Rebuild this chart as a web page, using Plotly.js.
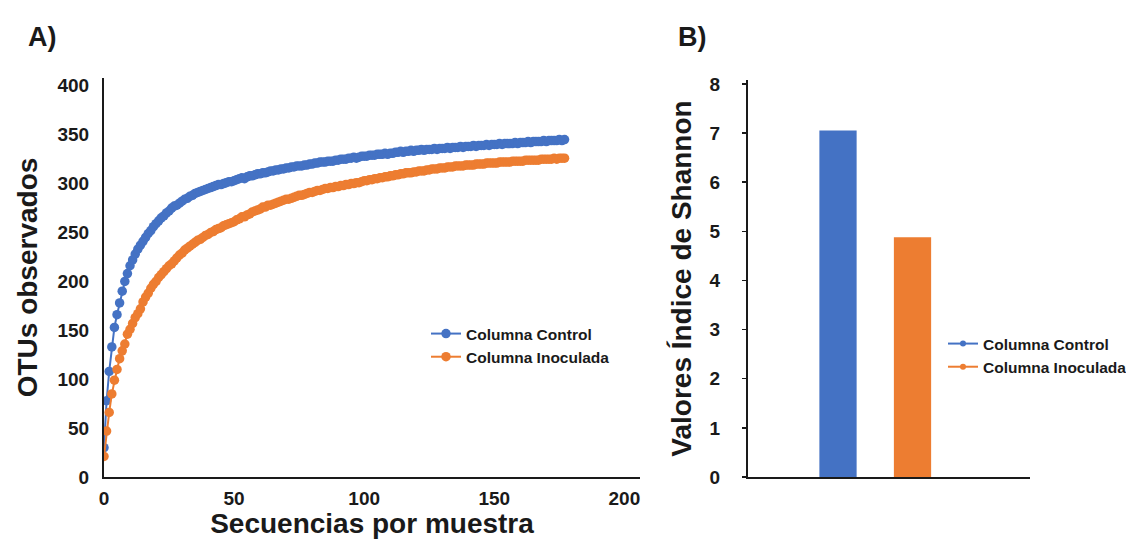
<!DOCTYPE html>
<html>
<head>
<meta charset="utf-8">
<script src="https://cdn.plot.ly/plotly-3.0.1.min.js"></script>
<style>html,body{margin:0;padding:0;background:#fff;}#chart{width:1126px;height:539px;}</style>
</head>
<body>
<div id="chart"></div>
<script>
// ---- Data ----
const seqX = [
0,1,2,3,4,5,6,7,8,9,10,11,12,13,14,15,16,17,18,19,
20,21,22,23,24,25,26,27,28,29,30,31,32,33,34,35,36,37,38,39,
40,41,42,43,44,45,46,47,48,49,50,51,52,53,54,55,56,57,58,59,
60,61,62,63,64,65,66,67,68,69,70,71,72,73,74,75,76,77,78,79,
80,81,82,83,84,85,86,87,88,89,90,91,92,93,94,95,96,97,98,99,
100,101,102,103,104,105,106,107,108,109,110,111,112,113,114,115,116,117,118,119,
120,121,122,123,124,125,126,127,128,129,130,131,132,133,134,135,136,137,138,139,
140,141,142,143,144,145,146,147,148,149,150,151,152,153,154,155,156,157,158,159,
160,161,162,163,164,165,166,167,168,169,170,171,172,173,174,175,176,177
];
const controlOTUs = [
30,78,108,133,153,166,178,190,200,208,216,222,228,233,237,241,245,249,252,256,
259,262,265,267,270,272,275,277,278,280,282,284,285,287,288,290,291,292,293,294,
295,296,297,298,299,299,300,301,302,302,303,304,305,306,305,307,308,308,309,310,
310,311,311,312,313,313,314,314,315,315,316,316,317,317,318,318,318,319,319,320,
320,321,321,322,322,322,323,323,323,324,324,325,325,325,326,326,327,326,327,328,
328,328,329,329,329,330,330,330,331,330,331,331,332,332,333,332,333,333,334,333,
334,334,335,334,335,335,335,336,335,336,336,336,337,336,337,337,337,338,337,338,
338,338,339,338,339,339,339,340,339,340,340,340,341,340,341,341,341,341,342,341,
342,342,342,343,342,343,343,343,343,344,343,344,344,344,344,345,344,345
];
const inoculadaOTUs = [
21,47,66,85,99,110,121,129,136,146,151,157,163,167,172,179,184,188,193,197,
200,204,207,210,213,216,218,221,224,227,229,232,234,236,238,240,242,243,245,247,
248,250,251,253,254,255,257,258,259,260,261,263,264,266,266,268,269,271,272,273,
274,276,276,278,278,279,280,281,282,283,284,284,285,286,287,288,288,289,290,291,
291,292,293,293,294,295,295,296,296,297,297,298,298,299,299,300,300,301,301,302,
303,303,304,304,305,305,306,306,307,307,308,308,309,309,310,310,311,311,311,312,
312,313,313,313,314,314,315,315,315,316,316,316,317,317,317,318,318,318,318,319,
319,319,319,320,320,320,320,321,321,321,321,321,322,322,322,322,322,323,323,323,
323,323,324,324,324,324,324,324,325,325,325,325,325,326,325,326,326,326
];
const seriesNames = ["Columna Control", "Columna Inoculada"];
const shannonValues = [7.05, 4.88];
const leftYTicks = [0, 50, 100, 150, 200, 250, 300, 350, 400];
const leftXTicks = [0, 50, 100, 150, 200];
const rightYTicks = [0, 1, 2, 3, 4, 5, 6, 7, 8];
const panelLabels = ["A)", "B)"];
const titles = {
  xLeft: "Secuencias por muestra",
  yLeft: "OTUs observados",
  yRight: "Valores Índice de Shannon"
};

// ---- Styles ----
const BLUE = "#4472C4";
const ORANGE = "#ED7D31";
const FONT = "Arial, 'Liberation Sans', sans-serif";
const INK = "#1a1a1a";
const W = 1126, H = 539;
const px = v => v / W;
const py = v => 1 - v / H;

const traces = [
  {
    type: "scatter", mode: "lines+markers",
    x: seqX, y: controlOTUs, name: seriesNames[0],
    xaxis: "x", yaxis: "y", legend: "legend",
    line: {color: BLUE, width: 2},
    marker: {color: BLUE, size: 9.5}
  },
  {
    type: "scatter", mode: "lines+markers",
    x: seqX, y: inoculadaOTUs, name: seriesNames[1],
    xaxis: "x", yaxis: "y", legend: "legend",
    line: {color: ORANGE, width: 2},
    marker: {color: ORANGE, size: 9.5}
  },
  {
    type: "bar", x: seriesNames, y: shannonValues,
    xaxis: "x2", yaxis: "y2", showlegend: false,
    width: 0.5,
    marker: {color: [BLUE, ORANGE], line: {width: 0}}
  },
  // legend entries for panel B (no data drawn)
  {
    type: "scatter", mode: "lines+markers", x: [null], y: [null],
    name: seriesNames[0], xaxis: "x2", yaxis: "y2", legend: "legend2",
    line: {color: BLUE, width: 2}, marker: {color: BLUE, size: 6}
  },
  {
    type: "scatter", mode: "lines+markers", x: [null], y: [null],
    name: seriesNames[1], xaxis: "x2", yaxis: "y2", legend: "legend2",
    line: {color: ORANGE, width: 2}, marker: {color: ORANGE, size: 6}
  }
];

const axisCommon = {
  showgrid: false, zeroline: false, showline: true,
  linecolor: INK, linewidth: 2,
  tickfont: {family: FONT, size: 19, color: INK, weight: "bold"},
  fixedrange: true
};

const legendFont = {family: FONT, size: 15.5, color: INK, weight: "bold"};

const layout = {
  width: W, height: H,
  margin: {l: 0, r: 0, t: 0, b: 0, autoexpand: false},
  paper_bgcolor: "#ffffff", plot_bgcolor: "rgba(0,0,0,0)",
  font: {family: FONT, color: INK},
  showlegend: true,
  xaxis: Object.assign({}, axisCommon, {
    domain: [px(104), px(640)],
    range: [0, 206],
    tickvals: leftXTicks,
    ticks: "",
    ticklabelstandoff: 3,
    anchor: "y",
    title: {text: titles.xLeft, font: {family: FONT, size: 28, color: INK, weight: "bold"}, standoff: 6}
  }),
  yaxis: Object.assign({}, axisCommon, {
    domain: [py(477), py(78)],
    range: [0, 408],
    tickvals: leftYTicks,
    ticks: "",
    ticklabelstandoff: 9,
    anchor: "x",
    title: {text: titles.yLeft, font: {family: FONT, size: 28, color: INK, weight: "bold"}, standoff: 12}
  }),
  xaxis2: Object.assign({}, axisCommon, {
    domain: [px(748), px(1030)],
    type: "category",
    range: [-1.208, 2.577],
    showticklabels: false,
    ticks: "",
    anchor: "y2"
  }),
  yaxis2: Object.assign({}, axisCommon, {
    domain: [py(477), py(80)],
    range: [0, 8.08],
    tickvals: rightYTicks,
    ticks: "outside", ticklen: 4, tickwidth: 1.5, tickcolor: INK,
    ticklabelstandoff: 18,
    anchor: "x2",
    title: {text: titles.yRight, font: {family: FONT, size: 28, color: INK, weight: "bold"}, standoff: 10}
  }),
  legend: {
    x: px(426), y: py(317), xanchor: "left", yanchor: "top",
    bgcolor: "rgba(0,0,0,0)", borderwidth: 0,
    font: legendFont,
    itemwidth: 30, tracegroupgap: 0
  },
  legend2: {
    x: px(943), y: py(327), xanchor: "left", yanchor: "top",
    bgcolor: "rgba(0,0,0,0)", borderwidth: 0,
    font: legendFont,
    itemwidth: 30, tracegroupgap: 0
  },
  annotations: [
    {text: panelLabels[0], xref: "paper", yref: "paper", x: px(26), y: py(37),
     xanchor: "left", yanchor: "middle", showarrow: false,
     font: {family: FONT, size: 27, color: INK, weight: "bold"}},
    {text: panelLabels[1], xref: "paper", yref: "paper", x: px(676), y: py(37),
     xanchor: "left", yanchor: "middle", showarrow: false,
     font: {family: FONT, size: 27, color: INK, weight: "bold"}}
  ]
};

Plotly.newPlot("chart", traces, layout, {displayModeBar: false, staticPlot: true});
</script>
</body>
</html>
